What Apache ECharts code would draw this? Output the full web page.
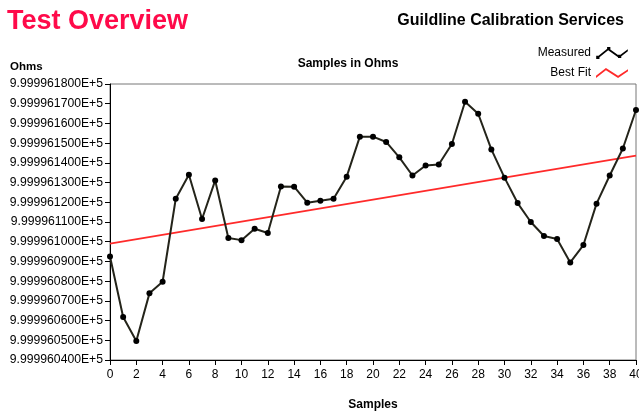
<!DOCTYPE html>
<html>
<head>
<meta charset="utf-8">
<script src="https://cdn.jsdelivr.net/npm/echarts@6/dist/echarts.min.js"></script>
<style>
  html, body { margin: 0; padding: 0; background: #fff; }
  #main { width: 639px; height: 412px; }
</style>
</head>
<body>
<div id="main"></div>
<script>
// sample numbers 0..40
const samples = [0, 1, 2, 3, 4, 5, 6, 7, 8, 9, 10, 11, 12, 13, 14, 15, 16, 17, 18, 19, 20,
  21, 22, 23, 24, 25, 26, 27, 28, 29, 30, 31, 32, 33, 34, 35, 36, 37, 38, 39, 40];

// measured resistance, ohms
const measured = [
  999996.0925, 999996.0618, 999996.0496, 999996.0738, 999996.0797,
  999996.1218, 999996.1340, 999996.1115, 999996.1311, 999996.1019,
  999996.1008, 999996.1066, 999996.1044, 999996.1280, 999996.1279,
  999996.1198, 999996.1208, 999996.1218, 999996.1330, 999996.1533,
  999996.1533, 999996.1506, 999996.1428, 999996.1336, 999996.1387,
  999996.1392, 999996.1496, 999996.1710, 999996.1649, 999996.1468,
  999996.1325, 999996.1196, 999996.1100, 999996.1029, 999996.1014,
  999996.0895, 999996.0983, 999996.1193, 999996.1336, 999996.1473,
  999996.1668
];

// best fit line end points [sample, ohms]
const fitX = [0, 40];
const fitY = [999996.0990, 999996.1437];

const yMin = 999996.04;
const yMax = 999996.18;
const yStep = 0.01;

const chart = echarts.init(document.getElementById('main'));

const fmt = v => v.toExponential(9).replace('e', 'E');

const option = {
  animation: false,
  textStyle: { fontFamily: 'Liberation Sans, Arial, sans-serif' },
  title: [
    {
      text: 'Test Overview',
      left: 2, top: 3,
      textStyle: { color: '#ff0a4a', fontSize: 27, fontWeight: 'bold' }
    },
    {
      text: 'Guildline Calibration Services',
      right: 10, top: 8,
      textStyle: { color: '#000', fontSize: 16, fontWeight: 'bold' }
    },
    {
      text: 'Ohms',
      left: 5, top: 56,
      textStyle: { color: '#000', fontSize: 11.5, fontWeight: 'bold' }
    },
    {
      text: 'Samples in Ohms',
      left: 343, top: 53, textAlign: 'center',
      textStyle: { color: '#000', fontSize: 12, fontWeight: 'bold' }
    }
  ],
  legend: {
    orient: 'vertical',
    right: 6, top: 42,
    align: 'right',
    itemGap: 8,
    itemWidth: 32, itemHeight: 12,
    textStyle: { color: '#000', fontSize: 12 },
    data: [
      { name: 'Measured', icon: 'path://M0,11 L10,3 L20,10 L28,4 L28,6 L20,12 L10,5 L0,13 Z M-1,10 h3 v3 h-3 Z M9,2 h3 v3 h-3 Z M19,9 h3 v3 h-3 Z', itemStyle: { color: '#000' } },
      { name: 'Best Fit', icon: 'path://M0,11 L9,4 L20,11 L29,5 L29,7 L20,13 L9,6 L0,13 Z', itemStyle: { color: '#ff2a2a' } }
    ]
  },
  grid: {
    left: 110, right: 3, top: 84, bottom: 52,
    outerBoundsMode: 'none',
    show: true, borderColor: '#777', borderWidth: 1
  },
  xAxis: {
    type: 'value',
    min: 0, max: 40, interval: 2,
    name: 'Samples',
    nameLocation: 'middle',
    nameGap: 39,
    nameTextStyle: { color: '#000', fontSize: 12, fontWeight: 'bold' },
    axisLine: { lineStyle: { color: '#000' } },
    axisTick: { length: 5, lineStyle: { color: '#000' } },
    axisLabel: { color: '#000', fontSize: 12, margin: 9 },
    splitLine: { show: false }
  },
  yAxis: {
    type: 'value',
    min: yMin, max: yMax, interval: yStep,
    axisLine: { show: true, lineStyle: { color: '#000' } },
    axisTick: { show: true, length: 5, lineStyle: { color: '#000' } },
    axisLabel: { color: '#000', fontSize: 12.2, margin: 7, formatter: fmt },
    splitLine: { show: false }
  },
  series: [
    {
      name: 'Best Fit',
      type: 'line',
      data: fitX.map((x, i) => [x, fitY[i]]),
      showSymbol: false,
      lineStyle: { color: '#ff2a2a', width: 1.8 },
      itemStyle: { color: '#ff2a2a' }
    },
    {
      name: 'Measured',
      type: 'line',
      data: samples.map((s, i) => [s, measured[i]]),
      symbol: 'circle',
      symbolSize: 6,
      lineStyle: { color: '#24241a', width: 2 },
      itemStyle: { color: '#000' },
      z: 3
    }
  ]
};

chart.setOption(option);
</script>
</body>
</html>
